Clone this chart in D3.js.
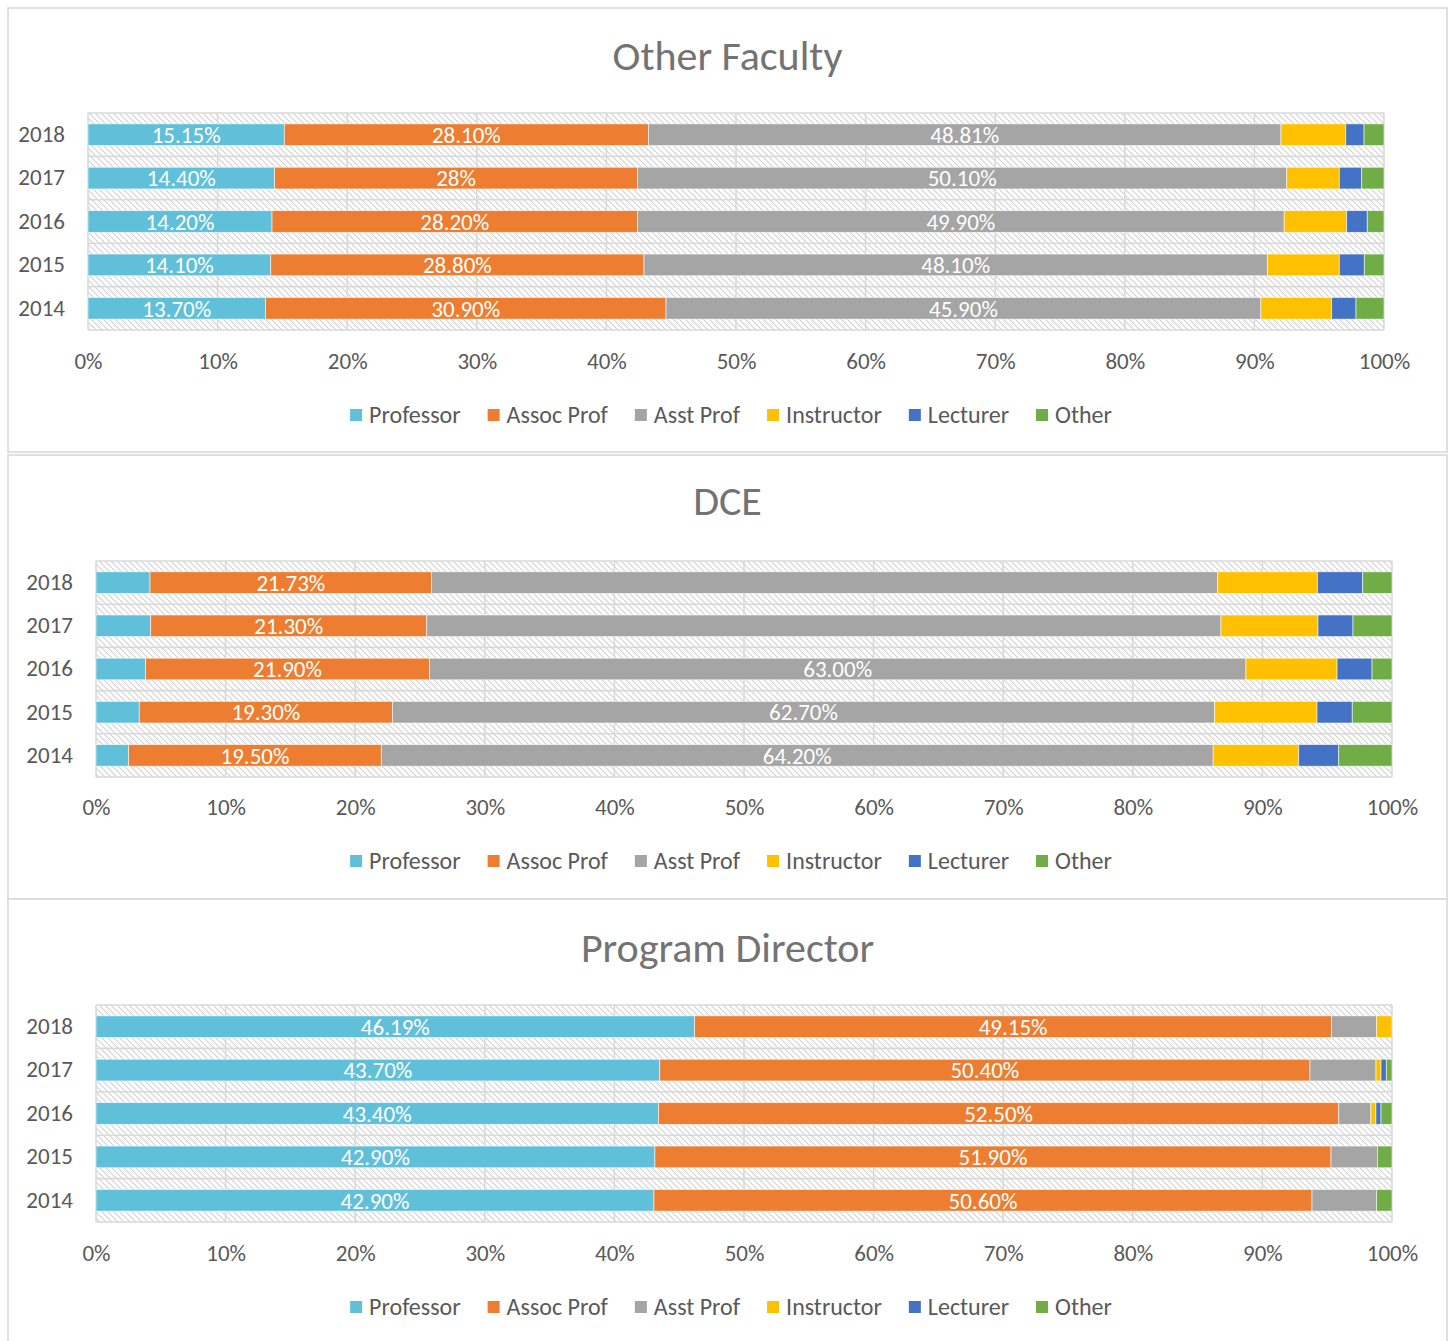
<!DOCTYPE html>
<html>
<head>
<meta charset="utf-8">
<script src="https://cdn.jsdelivr.net/npm/d3@7"></script>
<style>
  body { margin: 0; background: #ffffff; }
  svg { display: block; }
  text { font-family: Carlito, Calibri, Lato, "Open Sans", sans-serif; }
</style>
</head>
<body>
<script>
// ---------------- DATA ----------------
const years = ["2018", "2017", "2016", "2015", "2014"];
const seriesNames = ["Professor", "Assoc Prof", "Asst Prof", "Instructor", "Lecturer", "Other"];
const seriesColors = ["#61C0D9", "#ED7D31", "#A5A5A5", "#FFC000", "#4472C4", "#70AD47"];
const tickValues = [0, 0.1, 0.2, 0.3, 0.4, 0.5, 0.6, 0.7, 0.8, 0.9, 1.0];

// Other Faculty (rows follow `years`)
const ofProfessor  = [15.15, 14.40, 14.20, 14.10, 13.70];
const ofAssocProf  = [28.10, 28.00, 28.20, 28.80, 30.90];
const ofAsstProf   = [48.81, 50.10, 49.90, 48.10, 45.90];
const ofInstructor = [5.00, 4.05, 4.82, 5.55, 5.46];
const ofLecturer   = [1.41, 1.73, 1.59, 1.93, 1.88];
const ofOther      = [1.54, 1.72, 1.29, 1.52, 2.16];
const ofLabels = [
  ["15.15%", "28.10%", "48.81%", null, null, null],
  ["14.40%", "28%",    "50.10%", null, null, null],
  ["14.20%", "28.20%", "49.90%", null, null, null],
  ["14.10%", "28.80%", "48.10%", null, null, null],
  ["13.70%", "30.90%", "45.90%", null, null, null]
];

// DCE
const dceProfessor  = [4.17, 4.22, 3.83, 3.30, 2.52];
const dceAssocProf  = [21.73, 21.30, 21.90, 19.30, 19.50];
const dceAsstProf   = [60.65, 61.28, 63.00, 62.70, 64.20];
const dceInstructor = [7.69, 7.49, 7.03, 7.80, 6.60];
const dceLecturer   = [3.50, 2.70, 2.70, 2.69, 3.09];
const dceOther      = [2.26, 3.01, 1.54, 3.03, 4.11];
const dceLabels = [
  [null, "21.73%", null,     null, null, null],
  [null, "21.30%", null,     null, null, null],
  [null, "21.90%", "63.00%", null, null, null],
  [null, "19.30%", "62.70%", null, null, null],
  [null, "19.50%", "64.20%", null, null, null]
];

// Program Director
const pdProfessor  = [46.19, 43.70, 43.40, 42.90, 42.90];
const pdAssocProf  = [49.15, 50.40, 52.50, 51.90, 50.60];
const pdAsstProf   = [3.46, 5.12, 2.48, 3.56, 4.97];
const pdInstructor = [1.20, 0.39, 0.39, 0, 0];
const pdLecturer   = [0, 0.41, 0.39, 0, 0];
const pdOther      = [0, 0.44, 0.85, 1.12, 1.18];
const pdLabels = [
  ["46.19%", "49.15%", null, null, null, null],
  ["43.70%", "50.40%", null, null, null, null],
  ["43.40%", "52.50%", null, null, null, null],
  ["42.90%", "51.90%", null, null, null, null],
  ["42.90%", "50.60%", null, null, null, null]
];

// ---------------- BUILD TABLES ----------------
function buildRows(cols) {
  return years.map((yr, i) => {
    const r = { year: yr };
    seriesNames.forEach((s, j) => { r[s] = cols[j][i]; });
    return r;
  });
}
const charts = [
  { title: "Other Faculty", rows: buildRows([ofProfessor, ofAssocProf, ofAsstProf, ofInstructor, ofLecturer, ofOther]), labels: ofLabels },
  { title: "DCE", rows: buildRows([dceProfessor, dceAssocProf, dceAsstProf, dceInstructor, dceLecturer, dceOther]), labels: dceLabels },
  { title: "Program Director", rows: buildRows([pdProfessor, pdAssocProf, pdAsstProf, pdInstructor, pdLecturer, pdOther]), labels: pdLabels }
];

// ---------------- LAYOUT ----------------
const W = 1453, H = 1341;
const layouts = [
  { box: [8, 8, 1447, 452],   plot: [88, 1384, 113, 330],  titleY: 55,  tickY: 361,  legendY: 415 },
  { box: [8, 455, 1447, 899], plot: [96, 1392, 561, 777],  titleY: 500, tickY: 807,  legendY: 861 },
  { box: [8, 899, 1447, 1350], plot: [96, 1392, 1005, 1222], titleY: 947, tickY: 1253, legendY: 1307 }
];
const gridColor = "#d9d9d9";
const textColor = "#595959";
const axisFont = 23;

const svg = d3.select("body").append("svg").attr("width", W).attr("height", H);
svg.append("rect").attr("width", W).attr("height", H).attr("fill", "#fff");

const defs = svg.append("defs");
const pat = defs.append("pattern").attr("id", "hatch")
  .attr("patternUnits", "userSpaceOnUse").attr("width", 6).attr("height", 6);
pat.append("rect").attr("width", 6).attr("height", 6).attr("fill", "#fff");
pat.append("path").attr("d", "M0,0 L6,6 M-1,5 L1,7 M5,-1 L7,1")
  .attr("stroke", "#d2d2d2").attr("stroke-width", 1.1);

const stack = d3.stack().keys(seriesNames).offset(d3.stackOffsetExpand);

charts.forEach((chart, ci) => {
  const L = layouts[ci];
  const [bx0, by0, bx1, by1] = L.box;
  const [px0, px1, py0, py1] = L.plot;
  const g = svg.append("g");

  // panel border
  g.append("rect").attr("x", bx0).attr("y", by0).attr("width", bx1 - bx0).attr("height", by1 - by0)
    .attr("fill", "#fff").attr("stroke", gridColor).attr("stroke-width", 1.6);

  // title
  g.append("text").attr("x", (bx0 + bx1) / 2).attr("y", L.titleY).attr("dy", "0.35em")
    .attr("text-anchor", "middle").attr("fill", "#737373").attr("font-size", 42)
    .text(chart.title);

  const x = d3.scaleLinear().domain([0, 1]).range([px0, px1]);
  const y = d3.scaleBand().domain(years).range([py0, py1]).paddingInner(0.5).paddingOuter(0.25);

  // plot background (hatched)
  g.append("rect").attr("x", px0).attr("y", py0).attr("width", px1 - px0).attr("height", py1 - py0)
    .attr("fill", "url(#hatch)");

  // vertical gridlines
  g.append("g").selectAll("line").data(tickValues).join("line")
    .attr("x1", d => x(d)).attr("x2", d => x(d)).attr("y1", py0).attr("y2", py1)
    .attr("stroke", gridColor).attr("stroke-width", 1.6);
  // horizontal category boundaries
  const bounds = d3.range(years.length + 1).map(i => py0 + i * (py1 - py0) / years.length);
  g.append("g").selectAll("line").data(bounds).join("line")
    .attr("x1", px0).attr("x2", px1).attr("y1", d => d).attr("y2", d => d)
    .attr("stroke", gridColor).attr("stroke-width", 1.6);

  // bars
  const series = stack(chart.rows);
  const layer = g.append("g").selectAll("g").data(series).join("g")
    .attr("fill", (d, i) => seriesColors[i]);
  layer.selectAll("rect").data(d => d).join("rect")
    .attr("x", d => x(d[0])).attr("width", d => Math.max(0, x(d[1]) - x(d[0])))
    .attr("y", d => y(d.data.year)).attr("height", y.bandwidth())
    .attr("stroke", "#fff").attr("stroke-width", 0.8).attr("stroke-opacity", 0.7);

  // data labels
  const lab = [];
  series.forEach((s, si) => {
    s.forEach((d, ri) => {
      const t = chart.labels[ri][si];
      if (t) lab.push({ t, cx: (x(d[0]) + x(d[1])) / 2, cy: y(d.data.year) + y.bandwidth() / 2 });
    });
  });
  g.append("g").selectAll("text").data(lab).join("text")
    .attr("x", d => d.cx).attr("y", d => d.cy).attr("dy", "0.36em")
    .attr("text-anchor", "middle").attr("fill", "#fff").attr("font-size", axisFont)
    .text(d => d.t);

  // x axis
  const xAxis = g.append("g").attr("transform", `translate(0,${py1})`)
    .call(d3.axisBottom(x).tickValues(tickValues).tickFormat(d3.format(".0%")).tickSize(0));
  xAxis.select(".domain").remove();
  xAxis.selectAll("text").attr("y", L.tickY - py1).attr("dy", "0.35em")
    .attr("fill", textColor).attr("font-size", axisFont).attr("font-family", null);

  // y axis
  const yAxis = g.append("g").attr("transform", `translate(${px0},0)`)
    .call(d3.axisLeft(y).tickSize(0).tickPadding(23));
  yAxis.select(".domain").remove();
  yAxis.selectAll("text").attr("fill", textColor).attr("font-size", axisFont).attr("font-family", null);

  // legend
  const leg = g.append("g");
  const items = leg.selectAll("g").data(seriesNames).join("g");
  items.append("rect").attr("width", 12).attr("height", 12).attr("y", -6)
    .attr("fill", (d, i) => seriesColors[i]);
  items.append("text").attr("x", 19).attr("dy", "0.35em")
    .attr("fill", textColor).attr("font-size", 24).text(d => d);
  let cur = 0;
  items.each(function () {
    const w = d3.select(this).select("text").node().getComputedTextLength();
    d3.select(this).attr("transform", `translate(${cur},0)`);
    cur += 19 + w + 27;
  });
  const total = cur - 27;
  leg.attr("transform", `translate(${731 - total / 2},${L.legendY})`);
});
</script>
</body>
</html>
